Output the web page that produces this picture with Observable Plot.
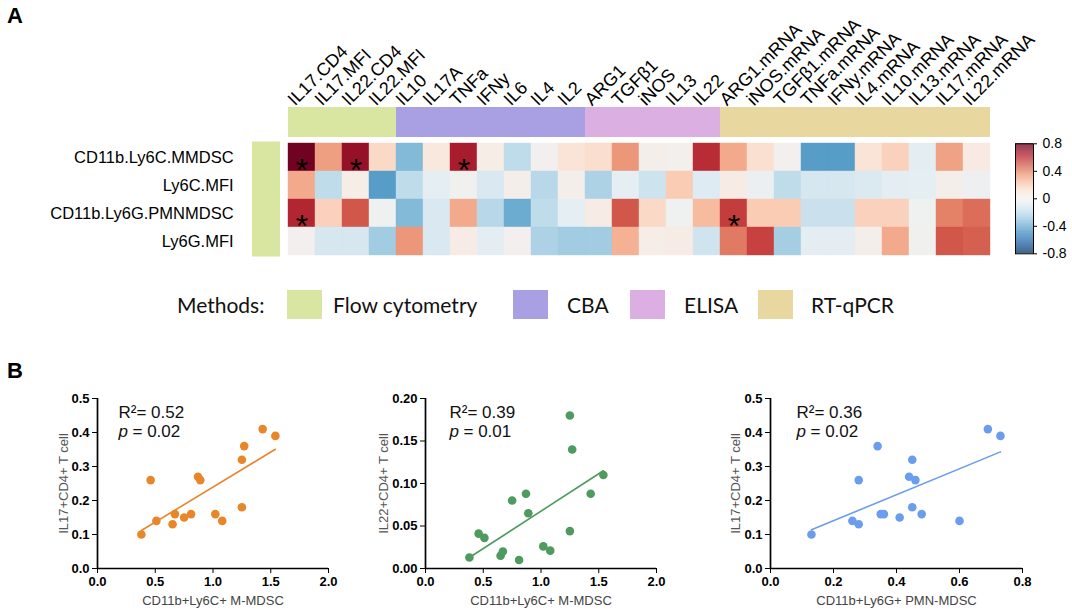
<!DOCTYPE html>
<html><head><meta charset="utf-8">
<script src="https://cdn.jsdelivr.net/npm/d3@7"></script>
<script src="https://cdn.jsdelivr.net/npm/@observablehq/plot@0.6"></script>
<style>
body{margin:0;background:#fff;}
#root{position:relative;width:1072px;height:613px;overflow:hidden;font-family:"Liberation Sans",Arial,sans-serif;background:#fff;}
.panel{position:absolute;font-weight:bold;font-size:22px;line-height:22px;font-family:"Liberation Sans",Arial,sans-serif;}
.lg{position:absolute;font-family:Lato,"Open Sans",sans-serif;font-size:21px;line-height:30px;color:#111;white-space:nowrap;}
.sw{position:absolute;width:35px;height:29px;}
</style></head><body><div id="root"></div>
<script>
// ---------- Panel A data ----------
const columns = ["IL17.CD4","IL17.MFI","IL22.CD4","IL22.MFI","IL10","IL17A","TNFa","IFNy","IL6","IL4","IL2","ARG1","TGFβ1","iNOS","IL13","IL22","ARG1.mRNA","iNOS.mRNA","TGFβ1.mRNA","TNFa.mRNA","IFNy.mRNA","IL4.mRNA","IL10.mRNA","IL13.mRNA","IL17.mRNA","IL22.mRNA"];
const methods = ["Flow cytometry","CBA","ELISA","RT-qPCR"];
const methodColors = ["#d9e6a1","#a8a0e2","#dcafe2","#e8d79f"];
const columnMethod = [0,0,0,0,1,1,1,1,1,1,1,2,2,2,2,2,3,3,3,3,3,3,3,3,3,3];
const rows = ["CD11b.Ly6C.MMDSC","Ly6C.MFI","CD11b.Ly6G.PMNMDSC","Ly6G.MFI"];
const rowMMDSC   = [0.78,0.33,0.70,0.15,-0.35,0.08,0.65,0.04,-0.20,0.00,0.10,0.13,0.35,0.02,0.01,0.60,0.30,0.12,0.00,-0.45,-0.45,0.10,0.18,-0.08,0.32,0.06];
const rowLy6CMFI = [0.30,-0.20,0.04,-0.45,-0.20,-0.07,-0.01,-0.12,0.02,-0.22,0.02,-0.25,-0.07,-0.16,0.20,-0.10,0.05,-0.04,-0.20,-0.13,-0.13,-0.11,-0.08,-0.07,0.02,-0.03];
const rowPMNMDSC = [0.62,0.18,0.50,-0.02,-0.35,-0.12,0.30,-0.22,-0.40,-0.20,-0.07,0.05,0.50,0.15,-0.02,0.25,0.56,0.20,0.20,-0.17,-0.17,0.18,0.18,-0.02,0.40,0.45];
const rowLy6GMFI = [0.00,-0.13,-0.13,-0.28,0.35,-0.12,0.05,-0.08,0.00,-0.25,-0.28,-0.28,0.28,0.04,0.05,-0.15,0.42,0.55,-0.27,-0.08,-0.08,0.02,0.30,-0.01,0.50,0.48];
const starCells = [[0,0],[0,2],[0,6],[2,0],[2,16]];
const colorTicks = [-0.8,-0.4,0,0.4,0.8];

// ---------- Panel B data ----------
const mmdscFreq = [0.38,0.46,0.51,0.65,0.67,0.75,0.81,0.87,0.89,1.02,1.08,1.25,1.25,1.27,1.43,1.54];
const il17VsMMDSC = [0.10,0.26,0.14,0.13,0.16,0.15,0.16,0.27,0.26,0.16,0.14,0.32,0.18,0.36,0.41,0.39];
const il22VsMMDSC = [0.013,0.041,0.036,0.015,0.020,0.080,0.010,0.088,0.065,0.026,0.021,0.044,0.180,0.140,0.088,0.110];
const pmnFreq = [0.13,0.26,0.28,0.28,0.34,0.35,0.36,0.41,0.44,0.45,0.45,0.46,0.48,0.60,0.69,0.73];
const il17VsPMN = [0.10,0.14,0.26,0.13,0.36,0.16,0.16,0.15,0.27,0.32,0.18,0.26,0.16,0.14,0.41,0.39];
const ticksHalf = [0,0.5,1,1.5,2];
const ticksIL17 = [0,0.1,0.2,0.3,0.4,0.5];
const ticksIL22 = [0,0.05,0.1,0.15,0.2];
const ticksPMN = [0,0.2,0.4,0.6,0.8];

const root = document.getElementById("root");
const matrix = [rowMMDSC,rowLy6CMFI,rowPMNMDSC,rowLy6GMFI];
const cells = rows.flatMap((r,i)=>columns.map((c,j)=>({row:r,col:c,value:matrix[i][j]})));
const stars = starCells.map(([i,j])=>({row:rows[i],col:columns[j]}));
const colorScale = {type:"linear", domain:[-0.8,0.8], interpolate:t=>d3.interpolateRdBu(1-t)};

function place(el,left,top){el.style.position="absolute";el.style.left=left+"px";el.style.top=top+"px";root.appendChild(el);return el;}

const heat = Plot.plot({
  width:1072, height:265,
  marginLeft:249.1, marginRight:69.6, marginTop:115, marginBottom:10,
  x:{domain:["_rg",...columns], padding:0, axis:null},
  y:{domain:["_grp",...rows], padding:0, axis:null},
  color:colorScale,
  style:{fontFamily:"Liberation Sans, Arial, sans-serif", fontSize:"16px", color:"#000", background:"transparent", overflow:"visible"},
  marks:[
    ...methods.map((m,k)=>Plot.cell(columns.filter((c,j)=>columnMethod[j]===k),{x:d=>d,y:()=>"_grp",fill:methodColors[k],insetTop:-8,insetBottom:6})),
    Plot.cell(rows,{x:()=>"_rg",y:d=>d,fill:methodColors[0],insetLeft:-9,insetRight:8,insetTop:-1.5,insetBottom:-1.5}),
    Plot.cell(cells,{x:"col",y:"row",fill:"value",stroke:"value",strokeWidth:0.4}),
    Plot.text(stars,{x:"col",y:"row",text:()=>"*",fontSize:32,dy:13,fill:"#000"}),
    Plot.text(rows,{y:d=>d,text:d=>d,frameAnchor:"left",textAnchor:"end",dx:-16,fontSize:16.5,fill:"#000"}),
    Plot.text(columns,{x:d=>d,text:d=>d,frameAnchor:"top",textAnchor:"start",lineAnchor:"bottom",rotate:-45,dx:-7,dy:-9,fontSize:18,fill:"#000"})
  ]
});
place(heat,0,0);

// colour bar
const steps = d3.range(-0.8,0.8,0.005);
const bar = Plot.plot({
  width:72, height:140, marginLeft:15, marginRight:39, marginTop:13.3, marginBottom:16.7,
  x:{domain:[0,1], axis:null},
  y:{domain:[-0.8,0.8], axis:"right", ticks:colorTicks, tickSize:3, tickPadding:6, tickFormat:d=>d===0?"0":d.toFixed(1), label:null},
  color:colorScale,
  style:{fontFamily:"Liberation Sans, Arial, sans-serif", fontSize:"14px", color:"#000", background:"transparent", overflow:"visible"},
  marks:[
    Plot.rect(steps,{x1:0,x2:1,y1:d=>d,y2:d=>d+0.0056,fill:d=>d+0.0025}),
    Plot.frame({stroke:"#000",strokeWidth:1})
  ]
});
place(bar,1000,130);

// Methods legend
const lgT = document.createElement("div"); lgT.className="lg"; lgT.textContent="Methods:"; place(lgT,177,290);
const swLeft=[287,513,630,758], txLeft=[333,567,684,811];
methods.forEach((m,k)=>{
  const s=document.createElement("div"); s.className="sw"; s.style.background=methodColors[k]; place(s,swLeft[k],290);
  const t=document.createElement("div"); t.className="lg"; t.textContent=m; place(t,txLeft[k],290);
});

// panel letters
const A=document.createElement("div");A.className="panel";A.textContent="A";place(A,7,5);
const B=document.createElement("div");B.className="panel";B.textContent="B";place(B,7,360);

// ---------- scatter plots ----------
function scatter(o){
  const data=o.xs.map((x,i)=>({x,y:o.ys[i]}));
  const txt={frameAnchor:"top-left",textAnchor:"start",fontSize:17,fontWeight:"normal",fill:"#111"};
  return Plot.plot({
    width:o.width, height:233, marginLeft:o.marginLeft, marginRight:o.marginRight, marginTop:18, marginBottom:45,
    style:{fontFamily:"Liberation Sans, Arial, sans-serif", fontSize:"13px", fontWeight:"bold", color:"#000", background:"transparent", overflow:"visible"},
    x:{domain:[0,o.xMax], ticks:o.xTicks, tickFormat:d3.format(".1f"), tickSize:5, tickPadding:3, label:null},
    y:{domain:[0,o.yMax], ticks:o.yTicks, tickFormat:d3.format(o.yFmt), tickSize:5, tickPadding:3, label:null},
    marks:[
      Plot.ruleX([0],{strokeWidth:1.7}),
      Plot.ruleY([0],{strokeWidth:1.7}),
      Plot.linearRegressionY(data,{x:"x",y:"y",stroke:o.color,strokeWidth:1.6,ci:0}),
      Plot.dot(data,{x:"x",y:"y",r:4.3,fill:o.color}),
      Plot.text([o.r2],{...txt,text:d=>d,dx:o.textDx,dy:7}),
      Plot.text(["p"],{...txt,text:d=>d,dx:o.textDx,dy:26,fontStyle:"italic"}),
      Plot.text([o.p],{...txt,text:d=>d,dx:o.textDx+14,dy:26}),
      Plot.text([o.xLabel],{frameAnchor:"bottom",textAnchor:"middle",text:d=>d,dy:36,fontSize:13,fontWeight:"normal",fill:"#444"}),
      Plot.text([o.yLabel],{frameAnchor:"left",textAnchor:"middle",text:d=>d,dx:o.yLabelDx,rotate:-90,fontSize:13,fontWeight:"normal",fill:"#555"})
    ]
  });
}
place(scatter({width:345,marginLeft:97,marginRight:17,xs:mmdscFreq,ys:il17VsMMDSC,color:"#e8862a",xMax:2,xTicks:ticksHalf,yMax:0.5,yTicks:ticksIL17,yFmt:".1f",r2:"R²= 0.52",p:"= 0.02",textDx:21,xLabel:"CD11b+Ly6C+ M-MDSC",yLabel:"IL17+CD4+ T cell",yLabelDx:-34}),0,380);
place(scatter({width:305,marginLeft:60,marginRight:14,xs:mmdscFreq,ys:il22VsMMDSC,color:"#4e9a5f",xMax:2,xTicks:ticksHalf,yMax:0.2,yTicks:ticksIL22,yFmt:".2f",r2:"R²= 0.39",p:"= 0.01",textDx:24,xLabel:"CD11b+Ly6C+ M-MDSC",yLabel:"IL22+CD4+ T cell",yLabelDx:-42}),365,380);
place(scatter({width:372,marginLeft:70,marginRight:50,xs:pmnFreq,ys:il17VsPMN,color:"#6b9ced",xMax:0.8,xTicks:ticksPMN,yMax:0.5,yTicks:ticksIL17,yFmt:".1f",r2:"R²= 0.36",p:"= 0.02",textDx:26,xLabel:"CD11b+Ly6G+ PMN-MDSC",yLabel:"IL17+CD4+ T cell",yLabelDx:-35}),700,380);
</script></body></html>
